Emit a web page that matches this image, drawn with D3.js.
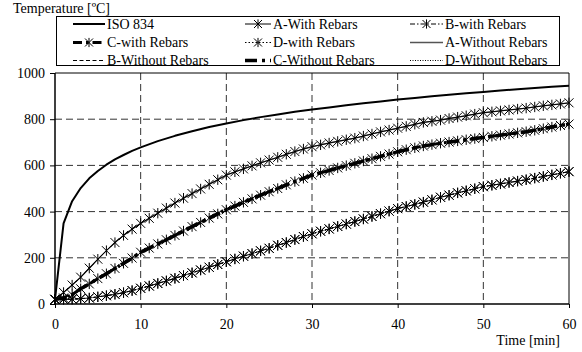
<!DOCTYPE html>
<html>
<head>
<meta charset="utf-8">
<script src="https://cdn.jsdelivr.net/npm/d3@7"></script>
<style>
  body { margin: 0; background: #fff; }
  svg { display: block; }
  text { font-family: "Liberation Serif", "Times New Roman", serif; fill: #000; }
</style>
</head>
<body>
<svg id="chart" width="582" height="352"></svg>
<script>
// Standard fire curve (ISO 834), sampled in minutes
const isoTimes = [0,1,2,3,4,5,6,7,8,9,10,12,14,16,18,20,22,24,26,28,30,32,34,36,38,40,42,44,46,48,50,52,54,56,58,60];
const isoTemps = [20,349,445,502,544,576,603,626,645,663,678,705,728,748,766,781,796,809,820,832,842,851,860,869,877,885,892,899,906,912,918,924,930,935,940,945];

// Specimen temperatures, one reading per minute from 0 to 60
const minutes = d3.range(0, 61);
const aWith = [20,50,82,116,155,194,231,266,297,324,349,371,393,415,437,458,478,498,518,538,558,572,585,598,611,623,635,648,660,671,681,689,697,704,711,718,727,736,745,753,761,769,778,786,791,796,803,809,815,822,828,832,836,840,844,848,853,858,862,866,871];
const aWithout = [20,50,82,116,155,194,231,266,297,324,349,371,393,415,437,458,478,498,518,538,558,572,585,598,611,623,635,648,660,671,681,689,697,704,711,718,727,736,745,753,761,769,778,786,791,796,803,809,815,822,828,832,836,840,844,848,853,858,862,866,871];
const cWith = [20,26,40,66,87,110,131,154,176,199,224,242,260,278,297,316,335,353,372,390,408,424,440,455,471,486,500,516,530,544,558,568,578,589,599,609,619,629,639,649,659,668,676,684,690,696,701,706,711,716,721,726,731,736,741,746,752,759,766,773,779];
const cWithout = [20,26,40,66,87,110,131,154,176,199,224,242,260,278,297,316,335,353,372,390,408,424,440,455,471,486,500,516,530,544,558,568,578,589,599,609,619,629,639,649,659,668,676,684,690,696,701,706,711,716,721,726,731,736,741,746,752,759,766,773,779];
const bWith = [20,20,21,23,26,31,36,42,49,58,68,78,89,100,111,123,135,147,159,171,183,195,207,218,230,241,254,266,279,292,304,315,325,336,346,357,368,379,391,402,413,422,431,441,451,462,471,481,490,499,508,514,520,526,532,538,545,552,559,566,573];
const bWithout = [20,20,21,23,26,31,36,42,49,58,68,78,89,100,111,123,135,147,159,171,183,195,207,218,230,241,254,266,279,292,304,315,325,336,346,357,368,379,391,402,413,422,431,441,451,462,471,481,490,499,508,514,520,526,532,538,545,552,559,566,573];
const dWith = [20,20,21,23,26,31,36,42,49,58,68,78,89,100,111,123,135,147,159,171,183,195,207,218,230,241,254,266,279,292,304,315,325,336,346,357,368,379,391,402,413,422,431,441,451,462,471,481,490,499,508,514,520,526,532,538,545,552,559,566,573];
const dWithout = [20,20,21,23,26,31,36,42,49,58,68,78,89,100,111,123,135,147,159,171,183,195,207,218,230,241,254,266,279,292,304,315,325,336,346,357,368,379,391,402,413,422,431,441,451,462,471,481,490,499,508,514,520,526,532,538,545,552,559,566,573];

const xTicks = [0,10,20,30,40,50,60];
const yTicks = [0,200,400,600,800,1000];
const legendNames = [
  ["ISO 834", "A-With Rebars", "B-with Rebars"],
  ["C-with Rebars", "D-with Rebars", "A-Without Rebars"],
  ["B-Without Rebars", "C-Without Rebars", "D-Without Rebars"]
];

// Line styles per series
const styles = {
  "ISO 834":          { width: 2,   dash: null,          color: "#000", marker: false },
  "A-With Rebars":    { width: 1,   dash: null,          color: "#000", marker: true },
  "B-with Rebars":    { width: 1,   dash: "5,2,1.5,2",   color: "#000", marker: true },
  "C-with Rebars":    { width: 3,   dash: "9,4,2.5,4",   color: "#000", marker: true },
  "D-with Rebars":    { width: 1,   dash: "1.5,2",       color: "#000", marker: true },
  "A-Without Rebars": { width: 1.3, dash: null,          color: "#555", marker: false },
  "B-Without Rebars": { width: 1,   dash: "4,2.5",       color: "#000", marker: false },
  "C-Without Rebars": { width: 3.5, dash: "12,5,3,5",    color: "#000", marker: false },
  "D-Without Rebars": { width: 1,   dash: "1,1.5",       color: "#000", marker: false }
};

const series = [
  { name: "B-Without Rebars", t: minutes, v: bWithout },
  { name: "D-Without Rebars", t: minutes, v: dWithout },
  { name: "C-Without Rebars", t: minutes, v: cWithout },
  { name: "A-Without Rebars", t: minutes, v: aWithout },
  { name: "B-with Rebars",    t: minutes, v: bWith },
  { name: "D-with Rebars",    t: minutes, v: dWith },
  { name: "C-with Rebars",    t: minutes, v: cWith },
  { name: "A-With Rebars",    t: minutes, v: aWith },
  { name: "ISO 834",          t: isoTimes, v: isoTemps }
];

const svg = d3.select("#chart");
const x = d3.scaleLinear().domain([0, 60]).range([55, 569]);
const y = d3.scaleLinear().domain([0, 1000]).range([304, 73]);

// Dashed grid
const grid = svg.append("g").attr("stroke", "#333").attr("stroke-width", 1).attr("stroke-dasharray", "7,4");
grid.selectAll("line.gx").data(xTicks.filter(d => d > 0 && d < 60)).join("line")
  .attr("x1", d => x(d)).attr("x2", d => x(d)).attr("y1", y(1000)).attr("y2", y(0));
grid.selectAll("line.gy").data(yTicks.filter(d => d > 0 && d < 1000)).join("line")
  .attr("x1", x(0)).attr("x2", x(60)).attr("y1", d => y(d)).attr("y2", d => y(d));

// Frame: top and right edges
svg.append("path")
  .attr("d", `M${x(0)},${y(1000)}H${x(60)}V${y(0)}`)
  .attr("fill", "none").attr("stroke", "#000").attr("stroke-width", 1);

// Asterisk marker
function star(sel, r) {
  return sel.attr("d", `M${-r},${-r}L${r},${r}M${-r},${r}L${r},${-r}M0,${-r * 1.15}V${r * 1.15}`);
}

const line = d3.line().x(d => x(d[0])).y(d => y(d[1]));

series.forEach(s => {
  const st = styles[s.name];
  const pts = s.t.map((t, i) => [t, s.v[i]]);
  svg.append("path").datum(pts)
    .attr("d", line)
    .attr("fill", "none")
    .attr("stroke", st.color)
    .attr("stroke-width", st.width)
    .attr("stroke-dasharray", st.dash)
    .attr("stroke-linejoin", "round");
  if (st.marker) {
    svg.append("g").selectAll("path").data(pts).join("path")
      .call(star, 4.5)
      .attr("transform", d => `translate(${x(d[0])},${y(d[1])})`)
      .attr("fill", "none").attr("stroke", "#000").attr("stroke-width", 1);
  }
});

// Axes
const xAxis = svg.append("g").attr("transform", `translate(0,${y(0)})`)
  .call(d3.axisBottom(x).tickValues(xTicks).tickSize(4).tickPadding(11).tickFormat(d3.format("d")));
const yAxis = svg.append("g").attr("transform", `translate(${x(0)},0)`)
  .call(d3.axisLeft(y).tickValues(yTicks).tickSize(5).tickPadding(5).tickFormat(d3.format("d")));
[xAxis, yAxis].forEach(a => {
  a.selectAll("text").style("font-family", '"Liberation Serif", serif').style("font-size", "14px").attr("fill", "#000");
  a.selectAll("line").attr("stroke", "#000");
  a.select(".domain").attr("stroke", "#000").attr("stroke-width", 1.5);
});
xAxis.select(".domain").attr("d", `M${x(0)},0H${x(60)}`);
yAxis.select(".domain").attr("d", `M0,${y(0)}V${y(1000)}`);

// Axis titles
svg.append("text").attr("x", 13).attr("y", 13).style("font-size", "14px").text("Temperature [ºC]");
svg.append("text").attr("x", 560).attr("y", 345).attr("text-anchor", "end").style("font-size", "14px").text("Time [min]");

// Legend
const lg = svg.append("g");
lg.append("rect").attr("x", 56.5).attr("y", 16.5).attr("width", 503).attr("height", 49)
  .attr("fill", "#fff").attr("stroke", "#000").attr("stroke-width", 1);
const colX = [[73, 105], [245, 271], [410, 443]];
const rowY = [24, 42.5, 60.5];
legendNames.forEach((row, ri) => {
  row.forEach((name, ci) => {
    const st = styles[name];
    const [x0, x1] = colX[ci];
    const yy = rowY[ri];
    lg.append("line").attr("x1", x0).attr("x2", x1).attr("y1", yy).attr("y2", yy)
      .attr("stroke", st.color).attr("stroke-width", st.width).attr("stroke-dasharray", st.dash);
    if (st.marker) {
      lg.append("path").call(star, 4).attr("transform", `translate(${(x0 + x1) / 2},${yy})`)
        .attr("fill", "none").attr("stroke", "#000").attr("stroke-width", 1);
    }
    lg.append("text").attr("x", x1 + 2).attr("y", yy + 4.5).style("font-size", "14px").text(name);
  });
});
</script>
</body>
</html>
